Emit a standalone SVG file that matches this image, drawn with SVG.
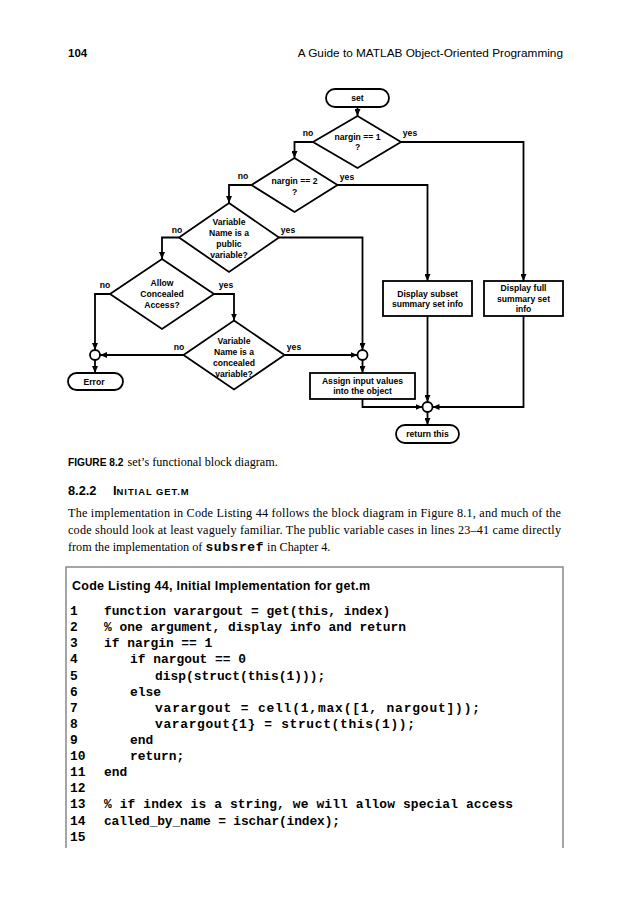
<svg xmlns="http://www.w3.org/2000/svg" width="629" height="900" viewBox="0 0 629 900">
<defs>
<marker id="ah" markerUnits="userSpaceOnUse" markerWidth="7" markerHeight="6" refX="7" refY="3" orient="auto">
<path d="M0,0 L7,3 L0,6 z" fill="#000"/>
</marker>
</defs>
<style>
.sh{fill:#fff;stroke:#000;stroke-width:1.8}
.ln{fill:none;stroke:#000;stroke-width:1.8;marker-end:url(#ah)}
.ft{font-family:"Liberation Sans",Arial,sans-serif;font-weight:bold;font-size:8.6px;text-anchor:middle;dominant-baseline:central}
.lb{font-family:"Liberation Sans",Arial,sans-serif;font-weight:bold;font-size:8.6px;text-anchor:middle;dominant-baseline:central}
.ser{font-family:"Liberation Serif","Times New Roman",serif;font-size:12.2px}
.sans{font-family:"Liberation Sans",Arial,sans-serif}
.code{font-family:"Liberation Mono","Courier New",monospace;font-weight:bold;font-size:12.9px}
</style>
<rect width="629" height="900" fill="#fff"/>

<!-- header -->
<text x="68" y="57" class="sans" font-weight="bold" font-size="11.5">104</text>
<text x="563" y="57" class="sans" font-size="11.8" text-anchor="end">A Guide to MATLAB Object-Oriented Programming</text>

<!-- connectors -->
<g id="connectors">
<path class="ln" d="M357.5,107 V116"/>
<path class="ln" d="M313,142 H294.5 V158"/>
<path class="ln" d="M401,142 H523.5 V281"/>
<path class="ln" d="M251.5,185 H229 V203"/>
<path class="ln" d="M337.5,185 H427.5 V281"/>
<path class="ln" d="M179,237.5 H162 V259"/>
<path class="ln" d="M279,237.5 H362.5 V350"/>
<path class="ln" d="M110,294 H95 V350"/>
<path class="ln" d="M214,294 H234 V320.5"/>
<path class="ln" d="M183.5,355 H100"/>
<path class="ln" d="M284.5,355 H357.5"/>
<path class="ln" d="M95,360 V373"/>
<path class="ln" d="M362.5,360 V373"/>
<path class="ln" d="M362.5,399 V407 H422.5"/>
<path class="ln" d="M427.5,316 V402"/>
<path class="ln" d="M523.5,316 V407 H432.5"/>
<path class="ln" d="M427.5,412 V425"/>
</g>
<g id="edge-labels">
<text class="lb" x="308" y="133">no</text>
<text class="lb" x="410" y="133">yes</text>
<text class="lb" x="243" y="176">no</text>
<text class="lb" x="347" y="177">yes</text>
<text class="lb" x="177" y="230">no</text>
<text class="lb" x="288" y="230">yes</text>
<text class="lb" x="105" y="285">no</text>
<text class="lb" x="226" y="285">yes</text>
<text class="lb" x="179" y="347">no</text>
<text class="lb" x="294" y="347">yes</text>
</g>

<!-- nodes -->
<g id="n-set"><rect class="sh" x="326" y="89" width="63" height="18" rx="9"/><text class="ft" x="357.5" y="98">set</text></g>
<g id="n-d1"><polygon class="sh" points="357.5,116 401,142 357.5,168 313,142"/><text class="ft" x="357.5" y="137">nargin == 1</text><text class="ft" x="357.5" y="147">?</text></g>
<g id="n-d2"><polygon class="sh" points="294.5,158 337.5,185 294.5,212 251.5,185"/><text class="ft" x="294.5" y="181">nargin == 2</text><text class="ft" x="294.5" y="192">?</text></g>
<g id="n-d3"><polygon class="sh" points="229,203 279,237.5 229,272 179,237.5"/><text class="ft" x="229" y="222">Variable</text><text class="ft" x="229" y="233">Name is a</text><text class="ft" x="229" y="244">public</text><text class="ft" x="229" y="255">variable?</text></g>
<g id="n-d4"><polygon class="sh" points="162,259 214,294 162,329 110,294"/><text class="ft" x="162" y="283">Allow</text><text class="ft" x="162" y="294">Concealed</text><text class="ft" x="162" y="305">Access?</text></g>
<g id="n-d5"><polygon class="sh" points="234,320.5 284.5,355 234,389.5 183.5,355"/><text class="ft" x="234" y="341">Variable</text><text class="ft" x="234" y="352">Name is a</text><text class="ft" x="234" y="363">concealed</text><text class="ft" x="234" y="374">variable?</text></g>
<g id="n-cl"><circle class="sh" cx="95" cy="355" r="5"/></g>
<g id="n-cr"><circle class="sh" cx="362.5" cy="355" r="5"/></g>
<g id="n-error"><rect class="sh" x="68" y="373" width="55" height="17" rx="8.5"/><text class="ft" x="94" y="381.5">Error</text></g>
<g id="n-assign"><rect class="sh" x="310" y="373" width="105" height="26"/><text class="ft" x="362.5" y="381">Assign input values</text><text class="ft" x="362.5" y="391">into the object</text></g>
<g id="n-subset"><rect class="sh" x="383" y="281" width="89" height="35"/><text class="ft" x="427.5" y="294">Display subset</text><text class="ft" x="427.5" y="304">summary set info</text></g>
<g id="n-full"><rect class="sh" x="484" y="281" width="79" height="35"/><text class="ft" x="523.5" y="288">Display full</text><text class="ft" x="523.5" y="299">summary set</text><text class="ft" x="523.5" y="309">info</text></g>
<g id="n-cb"><circle class="sh" cx="427.5" cy="407" r="5"/></g>
<g id="n-return"><rect class="sh" x="396" y="425" width="63" height="18" rx="9"/><text class="ft" x="427.5" y="434">return this</text></g>

<!-- caption and text -->
<text x="68" y="466"><tspan class="sans" font-weight="bold" font-size="10.2">FIGURE 8.2</tspan><tspan class="ser" font-size="10.2" dx="4">set’s functional block diagram.</tspan></text>
<text x="68" y="495" class="sans" font-weight="bold" font-size="12.8">8.2.2<tspan x="113">I</tspan><tspan font-size="9.4" textLength="72" lengthAdjust="spacing">NITIAL GET.M</tspan></text>
<text class="ser" x="68" y="517" textLength="493" lengthAdjust="spacing">The implementation in Code Listing 44 follows the block diagram in Figure 8.1, and much of the</text>
<text class="ser" x="68" y="534" textLength="493" lengthAdjust="spacing">code should look at least vaguely familiar. The public variable cases in lines 23–41 came directly</text>
<text class="ser" x="68" y="551">from the implementation of <tspan class="code" font-size="13" textLength="58" lengthAdjust="spacing">subsref</tspan> in Chapter 4.</text>

<!-- code listing -->
<path d="M66,848 V567 H563 V848" fill="none" stroke="#888" stroke-width="1.5"/>
<text x="72" y="590" class="sans" font-weight="bold" font-size="12.5" textLength="298" lengthAdjust="spacing">Code Listing 44, Initial Implementation for get.m</text>
<g class="code">
<text x="70" y="615">1</text><text x="104" y="615" xml:space="preserve">function varargout = get(this, index)</text>
<text x="70" y="631">2</text><text x="104" y="631" textLength="302" lengthAdjust="spacing">% one argument, display info and return</text>
<text x="70" y="647">3</text><text x="104" y="647">if nargin == 1</text>
<text x="70" y="663">4</text><text x="130" y="663">if nargout == 0</text>
<text x="70" y="680">5</text><text x="155" y="680">disp(struct(this(1)));</text>
<text x="70" y="696">6</text><text x="130" y="696">else</text>
<text x="70" y="712">7</text><text x="155" y="712" textLength="325" lengthAdjust="spacing">varargout = cell(1,max([1, nargout]));</text>
<text x="70" y="728">8</text><text x="155" y="728" textLength="260" lengthAdjust="spacing">varargout{1} = struct(this(1));</text>
<text x="70" y="744">9</text><text x="130" y="744">end</text>
<text x="70" y="760">10</text><text x="130" y="760">return;</text>
<text x="70" y="776">11</text><text x="104" y="776">end</text>
<text x="70" y="792">12</text>
<text x="70" y="808">13</text><text x="104" y="808" textLength="409" lengthAdjust="spacing">% if index is a string, we will allow special access</text>
<text x="70" y="825">14</text><text x="104" y="825" textLength="236" lengthAdjust="spacing">called_by_name = ischar(index);</text>
<text x="70" y="841">15</text>
</g>
</svg>
